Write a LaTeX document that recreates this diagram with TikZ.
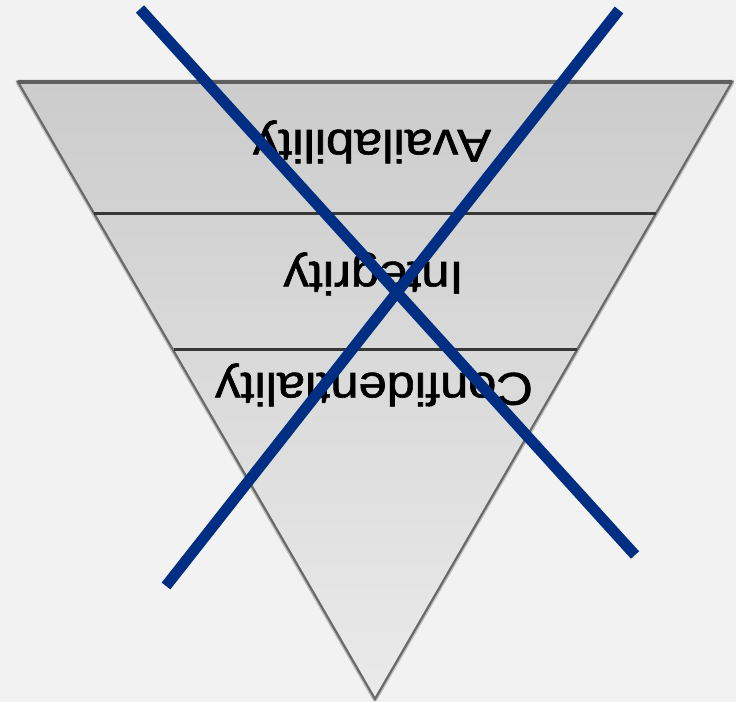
\documentclass[tikz,border=0pt]{standalone}
\usepackage{fontspec}
\setmainfont{Liberation Sans}
\newfontfamily\lblfont[FakeBold=1.3]{Liberation Sans}
\definecolor{bgc}{RGB}{242,242,242}
\definecolor{topc}{RGB}{204,204,204}
\definecolor{botc}{RGB}{234,234,234}
\definecolor{edgec}{RGB}{105,105,105}
\definecolor{sepc}{RGB}{55,55,55}
\definecolor{xblue}{RGB}{0,46,130}
\tikzset{
  lbl/.style={anchor=base, rotate=180, xscale=1.1, inner sep=0pt,
              font=\lblfont\fontsize{46}{46}\selectfont, text=black},
  sepline/.style={draw=sepc, line width=3pt},
  crossline/.style={draw=xblue, line width=11pt, line cap=butt}
}
\begin{document}
\begin{tikzpicture}[x=1pt,y=-1pt]
\fill[bgc] (0,0) rectangle (736,702);
\useasboundingbox (0,0) rectangle (736,702);
% corners of the inverted triangle
\coordinate (tl) at (18,82);
\coordinate (tr) at (732,82);
\coordinate (bt) at (375,699);
\coordinate (s1l) at (94,213);
\coordinate (s1r) at (656,213);
\coordinate (s2l) at (174,349);
\coordinate (s2r) at (577,349);
% soft shadow
\draw[black!25, line width=5pt, line join=round] (tl) -- (tr) -- (bt) -- cycle;
% body
\shade[top color=topc, bottom color=botc] (tl) -- (tr) -- (bt) -- cycle;
\draw[edgec, line width=2.2pt, line join=miter] (tl) -- (tr) -- (bt) -- cycle;
\draw[sepc!80, line width=3.5pt] (tl) -- (tr);
\draw[sepline] (s1l) -- (s1r);
\draw[sepline] (s2l) -- (s2r);
% labels (upside down)
\node[lbl] (avail) at (372,130) {Availability};
\node[lbl] (integ) at (373.5,262) {Integrity};
\node[lbl] (conf) at (374,373) {Confidentiality};
% blue cross
\coordinate (a1) at (140,9);
\coordinate (a2) at (635,555);
\coordinate (b1) at (619,10);
\coordinate (b2) at (166,586);
\draw[crossline] (a1) -- (a2);
\draw[crossline] (b1) -- (b2);
\end{tikzpicture}
\end{document}
